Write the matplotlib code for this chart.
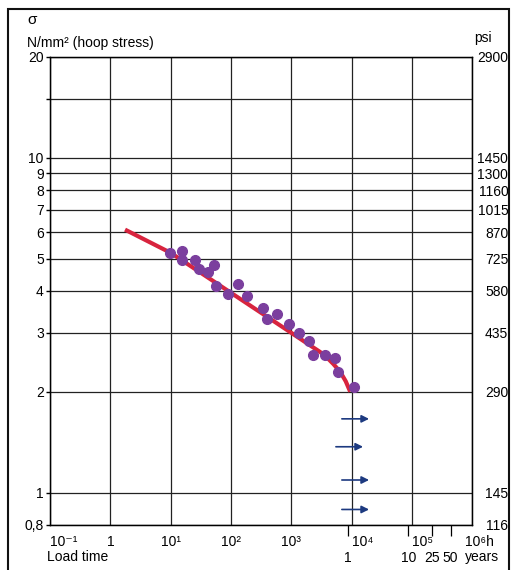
import matplotlib
matplotlib.use('Agg')
import matplotlib.pyplot as plt
from matplotlib.patches import Rectangle
from matplotlib.transforms import ScaledTranslation

plt.rcParams['font.family'] = ['Liberation Sans', 'DejaVu Sans']

# stress levels (N/mm2) with psi equivalents
stress_ticks = [0.8, 1, 2, 3, 4, 5, 6, 7, 8, 9, 10, 15, 20]
stress_labels = ['0,8', '1', '2', '3', '4', '5', '6', '7', '8', '9', '10', '', '20']
psi_labels = ['116', '145', '290', '435', '580', '725', '870', '1015', '1160', '1300', '1450', '', '2900']

# load time (h)
time_ticks = [0.1, 1, 10, 100, 1e3, 1e4, 1e5, 1e6]
time_labels = ['10⁻¹', '1', '10¹', '10²', '10³', '10⁴', '10⁵', '10⁶h']
year_hours = [8760, 87600, 219000, 438000]
year_labels = ['1', '10', '25', '50']

# test results
pt_time = [9.8, 15.3, 15.6, 25, 29, 42, 53, 57, 88, 132, 186, 336, 392, 575,
           930, 1350, 2000, 2330, 3640, 5300, 6000, 11000]
pt_stress = [5.21, 5.27, 4.95, 4.95, 4.64, 4.57, 4.78, 4.14, 3.92, 4.2, 3.86,
             3.57, 3.29, 3.41, 3.18, 2.99, 2.84, 2.57, 2.58, 2.52, 2.29, 2.06]

# regression curve
curve_time = [1.75, 10, 100, 1000, 2000, 3000, 4000, 5000, 6000, 7000, 8000, 9500]
curve_stress = [6.1, 5.2, 3.95, 3.0, 2.76, 2.63, 2.52, 2.42, 2.33, 2.24, 2.15, 2.0]

# still running tests (arrows): start, end, stress
arrow_start = [6900, 5500, 6900, 6900]
arrow_end = [19500, 15500, 19500, 19500]
arrow_stress = [1.66, 1.37, 1.09, 0.89]

fig = plt.figure(figsize=(5.11, 5.70), dpi=100)
ax = fig.add_axes([0.098, 0.079, 0.826, 0.821])
ax.set_xscale('log')
ax.set_yscale('log')
ax.set_xlim(0.1, 1e6)
ax.set_ylim(0.8, 20)

ax.set_yticks(stress_ticks, stress_labels)
ax.yaxis.set_minor_locator(matplotlib.ticker.NullLocator())
ax.xaxis.set_minor_locator(matplotlib.ticker.NullLocator())
ax.set_xticks(time_ticks, time_labels)
ax.tick_params(axis='y', length=3, width=1, pad=1.5, labelsize=10)
ax.tick_params(axis='x', length=0, pad=7, labelsize=10)
for lbl in ax.get_xticklabels():
    txt = lbl.get_text()
    if txt in ('10⁻¹', '10⁴', '10⁵'):
        lbl.set_ha('left')
    if txt == '10⁶h':
        lbl.set_transform(lbl.get_transform() + ScaledTranslation(0.07, 0, fig.dpi_scale_trans))
ax.grid(True, which='major', color='#222222', linewidth=0.9)
for s in ax.spines.values():
    s.set_linewidth(1.0)

ax2 = ax.twinx()
ax2.set_yscale('log')
ax2.set_ylim(ax.get_ylim())
ax2.set_yticks(stress_ticks, psi_labels)
ax2.yaxis.set_minor_locator(matplotlib.ticker.NullLocator())
ax2.tick_params(axis='y', length=0, pad=26, labelsize=10)
for lbl in ax2.get_yticklabels():
    lbl.set_ha('right')

yr = ax.secondary_xaxis('bottom')
yr.set_xticks(year_hours, year_labels)
yr.xaxis.set_minor_locator(matplotlib.ticker.NullLocator())
yr.tick_params(axis='x', length=8, width=0.9, pad=10.5, labelsize=10)
yr.spines['bottom'].set_visible(False)

ax.plot(curve_time, curve_stress, color='#d8243e', linewidth=3, solid_capstyle='butt', zorder=3)
ax.plot(pt_time, pt_stress, 'o', color='#7b3f9e', markersize=7, zorder=4)
for x0, x1, y in zip(arrow_start, arrow_end, arrow_stress):
    ax.annotate('', xy=(x1, y), xytext=(x0, y),
                arrowprops=dict(arrowstyle='-|>', color='#1d3a80', lw=1.2,
                                mutation_scale=11, shrinkA=0, shrinkB=0), zorder=5)

fig.text(27 / 511, 1 - 20 / 570, 'σ', fontsize=11, va='center', ha='left')
fig.text(27 / 511, 1 - 43 / 570, 'N/mm² (hoop stress)', fontsize=10, va='center', ha='left')
fig.text(474 / 511, 1 - 38 / 570, 'psi', fontsize=10, va='center', ha='left')
fig.text(47 / 511, 1 - 557 / 570, 'Load time', fontsize=10, va='center', ha='left')
fig.text(465 / 511, 1 - 557 / 570, 'years', fontsize=10, va='center', ha='left')

fig.add_artist(Rectangle((8 / 511, -0.02), 501 / 511, 0.984 + 0.02, transform=fig.transFigure,
                         fill=False, edgecolor='#111111', linewidth=1.5))

fig.savefig('out.png', dpi=100)
